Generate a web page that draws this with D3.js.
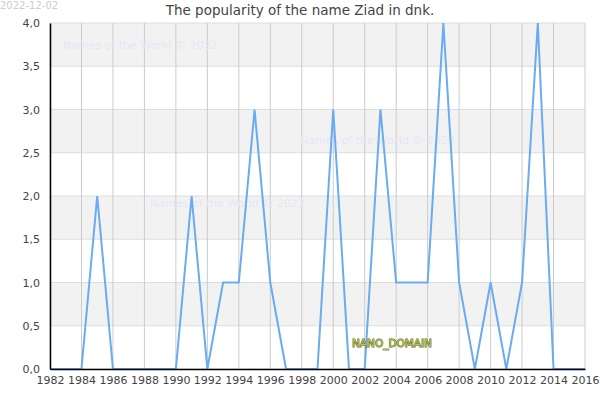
<!DOCTYPE html>
<html>
<head>
<meta charset="utf-8">
<script src="https://cdn.jsdelivr.net/npm/d3@7"></script>
<style>
  body { margin: 0; background: #fff; }
  svg { font-family: "DejaVu Sans", sans-serif; }
</style>
</head>
<body>
<svg id="chart" width="600" height="400"></svg>
<script>
// years and counts for the name Ziad in dnk
var years = d3.range(1982, 2017)
var counts = [0, 0, 0, 2, 0, 0, 0, 0, 0, 2,
              0, 1, 1, 3, 1, 0, 0, 0, 3, 0,
              0, 3, 1, 1, 1, 4, 1, 0, 1, 0,
              1, 4, 0, 0, 0]
var yTicks = [0, 0.5, 1, 1.5, 2, 2.5, 3, 3.5, 4]
var xTicks = d3.range(1982, 2017, 2)
var title = "The popularity of the name Ziad in dnk."
var stamp = "2022-12-02"
var watermark = "Names of the World © 2022"

var margin = {left: 50, right: 15, top: 23, bottom: 31}
var W = 600, H = 400
var svg = d3.select("#chart")

var x = d3.scaleLinear().domain([1982, 2016]).range([margin.left, W - margin.right])
var y = d3.scaleLinear().domain([0, 4]).range([H - margin.bottom, margin.top])

var fmt = function(d) { return d3.format(".1f")(d).replace(".", ",") }

// alternating bands
var bands = d3.range(0, 4, 0.5)
svg.selectAll(".band")
  .data(bands)
.enter().append("rect")
  .attr("class", "band")
  .attr("x", x(1982))
  .attr("width", x(2016) - x(1982))
  .attr("y", function(d) { return y(d + 0.5) })
  .attr("height", function(d) { return y(d) - y(d + 0.5) })
  .attr("fill", function(d, i) { return i % 2 == 1 ? "#f2f2f2" : "#ffffff" })

// grid lines
svg.selectAll(".hgrid")
  .data(yTicks)
.enter().append("line")
  .attr("x1", x(1982)).attr("x2", x(2016))
  .attr("y1", function(d) { return y(d) }).attr("y2", function(d) { return y(d) })
  .attr("stroke", "#dddddd")

svg.selectAll(".vgrid")
  .data(xTicks)
.enter().append("line")
  .attr("x1", function(d) { return x(d) }).attr("x2", function(d) { return x(d) })
  .attr("y1", y(4)).attr("y2", y(0))
  .attr("stroke", "#cccccc")

// watermarks
var marks = [[63, 49], [150, 207], [300, 144]]
svg.selectAll(".wm")
  .data(marks)
.enter().append("text")
  .attr("x", function(d) { return d[0] })
  .attr("y", function(d) { return d[1] })
  .attr("font-size", 11)
  .attr("fill", "#e6e6f5")
  .text(watermark)

// the line
var line = d3.line()
  .x(function(d, i) { return x(years[i]) })
  .y(function(d) { return y(d) })

svg.append("path")
  .datum(counts)
  .attr("d", line)
  .attr("fill", "none")
  .attr("stroke", "#6aabf2")
  .attr("stroke-width", 2)

// axes
var xAxis = svg.append("g")
  .attr("transform", "translate(0," + y(0) + ")")
  .call(d3.axisBottom(x).tickValues(xTicks).tickFormat(d3.format("d")).tickSize(0).tickPadding(7))
var yAxis = svg.append("g")
  .attr("transform", "translate(" + x(1982) + ",0)")
  .call(d3.axisLeft(y).tickValues(yTicks).tickFormat(fmt).tickSize(0).tickPadding(10))

xAxis.select(".domain").attr("stroke", "#000").attr("stroke-width", 1.5)
yAxis.select(".domain").attr("stroke", "#000").attr("stroke-width", 1.5)
svg.selectAll(".tick text")
  .attr("font-family", "DejaVu Sans, sans-serif")
  .attr("font-size", 11)
  .attr("fill", "#444")

// title and date
svg.append("text")
  .attr("x", 300).attr("y", 15)
  .attr("text-anchor", "middle")
  .attr("font-size", 13.5)
  .attr("fill", "#444")
  .text(title)

svg.append("text")
  .attr("x", 0).attr("y", 9)
  .attr("font-size", 10)
  .attr("fill", "#cccccc")
  .text(stamp)

svg.append("text")
  .attr("x", 352).attr("y", 347)
  .attr("font-size", 10.5)
  .attr("fill", "#bcc64c")
  .attr("stroke", "#4f5c1c")
  .attr("stroke-width", 0.9)
  .attr("paint-order", "stroke")
  .text("NANO_DOMAIN")
</script>
</body>
</html>
